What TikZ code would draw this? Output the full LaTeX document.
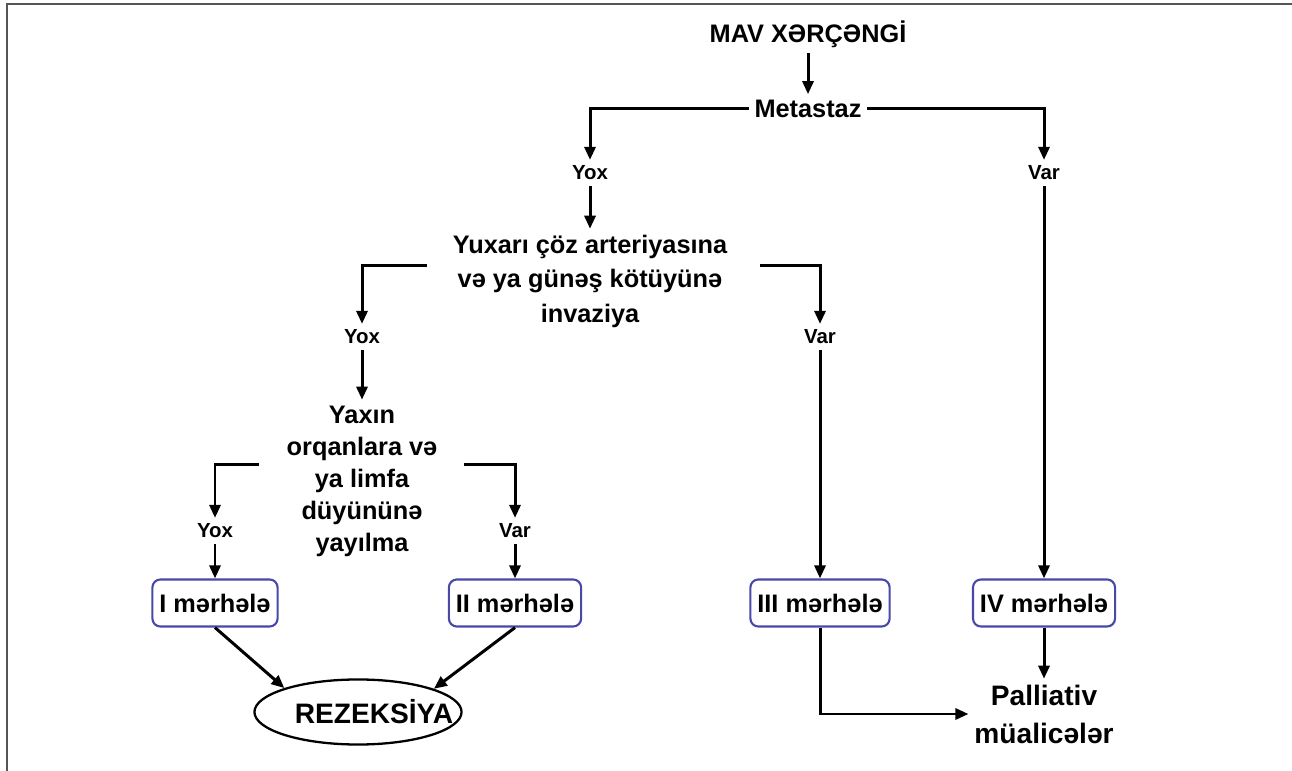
\documentclass[tikz,border=0pt]{standalone}
\usepackage{fontspec}
\setmainfont{Liberation Sans}
\usepackage{tikz}
\usetikzlibrary{arrows.meta,positioning,calc,shapes.geometric}
\definecolor{stageblue}{RGB}{72,72,168}
\definecolor{framegray}{RGB}{82,86,86}
\tikzset{
  conn/.style={-{Triangle[length=0.13cm,width=0.11cm]}, line width=0.85pt},
  title/.style={inner sep=1.5pt, font=\bfseries\fontsize{7.2}{9.6}\selectfont},
  answer/.style={inner sep=1.5pt, font=\bfseries\fontsize{5.8}{7}\selectfont},
  stagebox/.style={draw=stageblue, line width=0.6pt, rounded corners=0.08cm, inner xsep=0.07cm, minimum height=0.47cm, font=\bfseries\fontsize{7.2}{9}\selectfont},
  big/.style={inner sep=1.5pt, font=\bfseries\fontsize{8}{10.8}\selectfont}
}

\begin{document}
\begin{tikzpicture}[x=0.01cm, y=-0.01cm]
  \useasboundingbox (0,0) rectangle (1292,771);
  \draw[framegray, line width=0.02cm] (7,771) -- (7,4) -- (1292,4);
  \node[title] (mav) at (808,34) {MAV XƏRÇƏNGİ};
  \node[title] (meta) at (808,109) {Metastaz};
  \draw[conn] (mav) -- (meta);
  \node[answer] (yox1) at (590,173) {Yox};
  \node[answer] (var1) at (1044,173) {Var};
  \draw[conn] (meta.west) -| (yox1);
  \draw[conn] (meta.east) -| (var1);
  \node[title, align=center, font=\bfseries\fontsize{7.2}{9.8}\selectfont] (yux) at (590,281) {Yuxarı çöz arteriyasına\\və ya günəş kötüyünə\\invaziya};
  \draw[conn] (yox1) -- (yux);
  \node[answer] (yox2) at (362,337) {Yox};
  \node[answer] (var2) at (820,337) {Var};
  \draw[conn] ([xshift=-0.2cm,yshift=0.15cm]yux.west) -| (yox2);
  \draw[conn] ([xshift=0.27cm,yshift=0.15cm]yux.east) -| (var2);
  \node[title, align=center, font=\bfseries\fontsize{7.2}{9.1}\selectfont] (yax) at (362,481) {Yaxın\\orqanlara və\\ya limfa\\düyününə\\yayılma};
  \draw[conn] (yox2) -- (yax);
  \node[answer] (yox3) at (215,531) {Yox};
  \node[answer] (var3) at (515,531) {Var};
  \draw[conn] ([xshift=-0.22cm,yshift=0.16cm]yax.west) -| (yox3);
  \draw[conn] ([xshift=0.21cm,yshift=0.16cm]yax.east) -| (var3);
  \node[stagebox] (st1) at (215,603) {I mərhələ};
  \node[stagebox] (st2) at (515,603) {II mərhələ};
  \node[stagebox] (st3) at (820,603) {III mərhələ};
  \node[stagebox] (st4) at (1044,603) {IV mərhələ};
  \draw[conn] (yox3) -- (st1);
  \draw[conn] (var3) -- (st2);
  \draw[conn] (var2) -- (st3);
  \draw[conn] (var1) -- (st4);
  \node[ellipse, draw, line width=0.65pt, inner sep=0pt, minimum width=2.07cm, minimum height=0.65cm, label={[big, xshift=0.16cm]center:REZEKSİYA}] (rez) at (358,712) {};
  \draw[conn] (st1.south) -- (rez.162);
  \draw[conn] (st2.south) -- (rez.17);
  \node[big, align=center] (pal) at (1044,714) {Palliativ\\müalicələr};
  \draw[conn] (st4) -- (pal);
  \draw[conn] (st3) |- (pal);
\end{tikzpicture}
\end{document}
